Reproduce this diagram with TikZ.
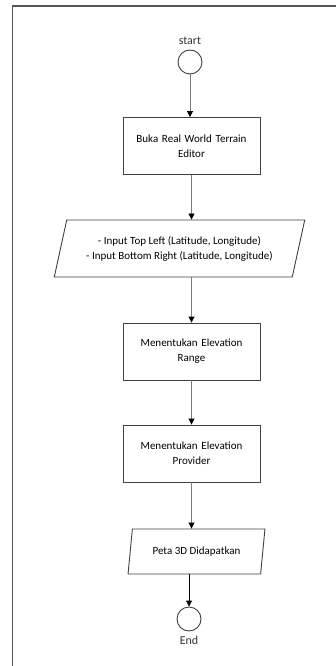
\documentclass[tikz,border=0pt]{standalone}
\usepackage{fontspec}
\setmainfont{Carlito}
\usetikzlibrary{shapes.geometric, arrows.meta, positioning}
\definecolor{frame_gray}{HTML}{555555}
\definecolor{line_gray}{HTML}{7A7A7A}
\definecolor{edge_gray}{HTML}{404040}
\tikzset{
  process_box/.style={rectangle, draw=edge_gray, fill=white, line width=0.9pt, minimum width=137pt, minimum height=57pt, inner sep=2pt, align=center, text width=128pt},
  io_box/.style={trapezium, draw=edge_gray, fill=white, line width=0.9pt, trapezium stretches=true, inner sep=2pt, align=center},
  term_circle/.style={circle, draw=edge_gray, fill=white, line width=0.9pt, minimum size=24pt, inner sep=0pt},
  term_label/.style={font=\fontsize{12}{14}\selectfont, text=black!80},
  arrow/.style={-{Triangle[length=6pt, width=6pt, color=black]}, line_gray, line width=0.9pt},
  frame_line/.style={frame_gray, line width=1.6pt}
}

\begin{document}
\begin{tikzpicture}[x=1pt, y=-1pt, font=\fontsize{11}{15}\selectfont]
\useasboundingbox (0,0) rectangle (336,666);

% 1. Frame (open on the right and bottom)
\coordinate (frameBot) at (12.5,666);
\coordinate (frameCorner) at (12.5,6);
\coordinate (frameRight) at (336,6);
\draw[frame_line] (frameBot) -- (frameCorner) -- (frameRight);

% 2. Flow nodes
\node[term_circle] (start) at (190,62) {};
\node[term_label, above=1pt of start] (start_lbl) {start};
\node[process_box] (buka) at (191.5,146) {Buka Real World Terrain\\Editor};
\node[io_box, minimum width=251pt, minimum height=57pt, trapezium left angle=70, trapezium right angle=110] (input) at (179.5,248.5)
  {- Input Top Left (Latitude, Longitude)\\- Input Bottom Right (Latitude, Longitude)};
\node[process_box] (range) at (191.5,351.5) {Menentukan Elevation\\Range};
\node[process_box] (provider) at (191.5,453.5) {Menentukan Elevation\\Provider};
\node[io_box, minimum width=137pt, minimum height=45pt, trapezium left angle=77, trapezium right angle=103] (peta) at (196.5,551.5) {Peta 3D Didapatkan};
\node[term_circle] (end) at (189,619) {};
\node[term_label, below=1pt of end] (end_lbl) {End};

% 3. Connectors
\draw[arrow] (start) -- (start |- buka.north);
\draw[arrow] (buka.south) -- (buka.south |- input.north);
\draw[arrow] (range.north |- input.south) -- (range.north);
\draw[arrow] (range) -- (provider);
\draw[arrow] (provider.south) -- (provider.south |- peta.north);
\draw[arrow, black] (end.north |- peta.south) -- (end);
\end{tikzpicture}
\end{document}
